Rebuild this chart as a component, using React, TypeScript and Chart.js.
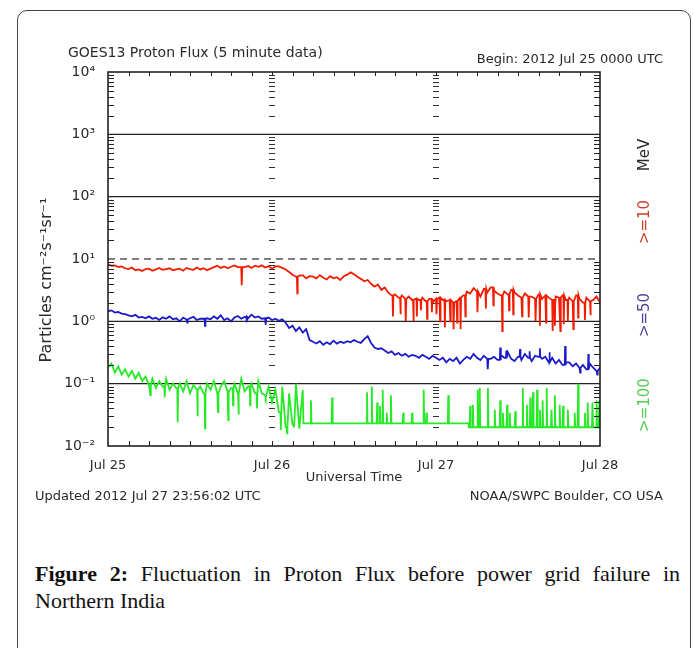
import React, { useEffect, useRef } from 'react';
import { Chart, registerables } from 'chart.js';

Chart.register(...registerables);

// ---------- DATA ----------
const SAMPLE_STEP_HOURS = 0.5; // hours since 2012 Jul 25 00:00 UTC
const SPIKE_HALF_WIDTH = 0.06; // hours

const xTickHours = [0, 24, 48, 72];
const xTickLabels = ['Jul 25', 'Jul 26', 'Jul 27', 'Jul 28'];

const yTickValues = [0.01, 0.1, 1, 10, 100, 1000, 10000];
const yTickLabels = ['10⁻²', '10⁻¹', '10⁰', '10¹', '10²', '10³', '10⁴'];

// >=10 MeV protons (red): running level every 0.5 h
const protons10 = [
  8.2, 7.8, 7.9, 7.4, 7.6, 7.1, 6.9, 7.3, 6.6, 6.8,
  6.4, 6.9, 7.0, 6.5, 6.8, 7.2, 6.7, 6.9, 7.1, 6.6,
  6.8, 7.0, 6.5, 7.2, 6.9, 6.7, 7.3, 6.8, 7.1, 6.6,
  7.0, 7.4, 7.8, 7.2, 7.6, 7.1, 7.5, 7.9, 7.4, 7.4,
  7.4, 7.7, 7.2, 7.8, 7.5, 7.9, 7.3, 7.7, 7.0, 7.6,
  7.6, 7.2, 6.8, 6.2, 5.6, 5.2, 5.4, 5.5, 4.9, 5.3,
  5.2, 4.9, 5.5, 5.0, 4.7, 5.3, 4.9, 5.1, 4.6, 5.3,
  5.6, 6.1, 5.7, 5.2, 4.8, 4.4, 4.6, 4.0, 3.6, 3.9,
  3.2, 3.5, 2.9, 2.6, 2.7, 2.4, 2.6, 2.3, 2.5, 2.2,
  2.3, 2.2, 2.4, 2.1, 2.3, 2.0, 2.3, 2.4, 2.2, 2.1,
  2.2, 2.0, 2.1, 2.4, 2.6, 3.0, 2.8, 3.4, 3.0, 2.5,
  3.3, 2.9, 3.5, 3.1, 2.8, 2.6, 3.0, 2.7, 3.2, 2.9,
  2.6, 2.4, 2.8, 2.5, 2.5, 2.3, 2.7, 2.3, 2.6, 2.4,
  2.2, 2.5, 2.4, 2.6, 2.2, 2.4, 2.1, 2.6, 2.3, 2.0,
  2.4, 2.1, 2.2, 2.5, 2.0,
];
// >=10 MeV short drop-outs
const protons10DipHours = [
  19.6, 27.7, 41.7, 42.8, 43.6, 44.7, 45.2, 45.8, 46.7, 47.4,
  48.1, 48.6, 49.3, 50.1, 50.6, 51.1, 51.6, 52.3, 54.1, 55.3,
  56.4, 57.7, 58.7, 59.3, 60.6, 61.6, 62.6, 63.2, 64.1, 65.1,
  65.4, 66.2, 66.7, 67.3, 68.1, 68.8, 69.8, 70.6,
];
const protons10DipValues = [
  3.8, 2.8, 1.2, 1.3, 1.0, 1.0, 1.2, 1.5, 1.1, 1.4,
  1.3, 1.0, 0.8, 1.0, 0.75, 0.95, 0.75, 1.2, 1.4, 1.6,
  1.8, 0.7, 1.5, 1.3, 1.2, 1.15, 1.0, 0.85, 0.95, 0.7,
  0.85, 0.7, 0.9, 1.0, 0.75, 1.15, 1.05, 1.25,
];

// >=50 MeV protons (blue)
const protons50 = [
  1.45, 1.5, 1.38, 1.42, 1.33, 1.3, 1.25, 1.2, 1.27, 1.15,
  1.18, 1.12, 1.2, 1.1, 1.14, 1.05, 1.16, 1.1, 1.2, 1.08,
  1.12, 1.0, 1.15, 1.07, 1.12, 1.18, 1.05, 1.1, 1.1, 1.12,
  1.08, 1.2, 1.1, 1.25, 1.05, 1.12, 1.0, 1.15, 1.22, 1.1,
  1.18, 1.12, 1.28, 1.15, 1.2, 1.1, 1.12, 1.15, 1.05, 1.1,
  1.02, 1.08, 0.95, 0.78, 0.85, 0.7, 0.8, 0.66, 0.75, 0.5,
  0.47, 0.44, 0.48, 0.42, 0.46, 0.43, 0.49, 0.44, 0.47, 0.45,
  0.48, 0.46, 0.5, 0.47, 0.45, 0.52, 0.58, 0.45, 0.38, 0.36,
  0.37, 0.34, 0.31, 0.33, 0.29, 0.31, 0.28, 0.3, 0.27, 0.29,
  0.28, 0.26, 0.29, 0.27, 0.25, 0.28, 0.26, 0.24, 0.26, 0.22,
  0.25, 0.23, 0.26, 0.21, 0.24, 0.27, 0.25, 0.3, 0.26, 0.24,
  0.28, 0.25, 0.25, 0.27, 0.24, 0.29, 0.26, 0.32, 0.25, 0.23,
  0.27, 0.24, 0.3, 0.26, 0.23, 0.28, 0.27, 0.25, 0.27, 0.22,
  0.26, 0.21, 0.24, 0.2, 0.22, 0.22, 0.19, 0.21, 0.18, 0.2,
  0.17, 0.21, 0.18, 0.16, 0.18,
];
const protons50SpikeHours = [11.6, 14.2, 20.3, 23.1, 55.6, 57.4, 58.3, 60.3, 61.7, 63.2, 64.6, 66.9, 69.1, 70.3, 71.6];
const protons50SpikeValues = [0.95, 0.85, 0.97, 0.88, 0.17, 0.38, 0.34, 0.36, 0.33, 0.37, 0.32, 0.4, 0.15, 0.3, 0.14];

// >=100 MeV protons (green), first part sampled every 0.5 h
const protons100Early = [
  0.18, 0.21, 0.15, 0.19, 0.14, 0.17, 0.13, 0.16, 0.12, 0.15,
  0.11, 0.13, 0.095, 0.12, 0.085, 0.11, 0.09, 0.12, 0.08, 0.1,
  0.085, 0.1, 0.075, 0.11, 0.07, 0.095, 0.08, 0.09, 0.07, 0.1,
  0.08, 0.11, 0.07, 0.09, 0.11, 0.075, 0.085, 0.1, 0.07, 0.12,
  0.075, 0.09, 0.1, 0.07, 0.11, 0.07, 0.065, 0.09, 0.05, 0.08,
  0.035, 0.09, 0.02, 0.07, 0.022, 0.1, 0.019, 0.08,
];
const protons100EarlyDipHours = [6.2, 8.3, 10.2, 13.1, 14.2, 16.1, 17.6, 18.3, 19.1, 20.8, 21.8, 23.1, 25.3, 26.2, 27.2];
const protons100EarlyDipValues = [0.065, 0.06, 0.024, 0.03, 0.019, 0.035, 0.026, 0.045, 0.032, 0.045, 0.04, 0.06, 0.018, 0.016, 0.02];
// later part: flat floor with isolated spikes
const protons100DropHour = 28.6;
const protons100FloorHours = [28.6, 52.8, 72];
const protons100FloorValues = [0.023, 0.02, 0.02];
const protons100SpikeHours = [
  29.7, 32.8, 37.9, 38.6, 39.4, 39.8, 40.2, 40.8, 41.4, 43.2,
  44.5, 46.2, 46.6, 49.8, 53.0, 53.4, 54.1, 54.4, 55.6, 56.6,
  57.4, 57.8, 58.4, 58.8, 59.6, 60.7, 61.3, 61.8, 62.2, 62.8,
  63.2, 63.6, 64.2, 64.9, 65.4, 66.1, 66.6, 67.3, 68.3, 68.8,
  69.8, 70.2, 70.9, 71.5, 71.9,
];
const protons100SpikePeaks = [
  0.054, 0.06, 0.073, 0.09, 0.05, 0.044, 0.08, 0.034, 0.065, 0.034,
  0.034, 0.08, 0.034, 0.065, 0.044, 0.046, 0.08, 0.085, 0.085, 0.038,
  0.054, 0.034, 0.046, 0.034, 0.036, 0.085, 0.046, 0.06, 0.073, 0.08,
  0.038, 0.054, 0.085, 0.038, 0.065, 0.046, 0.044, 0.038, 0.034, 0.1,
  0.034, 0.05, 0.05, 0.054, 0.054,
];

// ---------- helpers ----------
type Pt = { x: number; y: number };
const evenSeries = (vals: number[]): Pt[] => vals.map((v, i) => ({ x: i * SAMPLE_STEP_HOURS, y: v }));

function withSpikes(vals: number[], hours: number[], peaks: number[]): Pt[] {
  const pts = evenSeries(vals);
  hours.forEach((h, i) => {
    const base = vals[Math.min(vals.length - 1, Math.floor(h / SAMPLE_STEP_HOURS))];
    pts.push({ x: h - SPIKE_HALF_WIDTH, y: base }, { x: h, y: peaks[i] }, { x: h + SPIKE_HALF_WIDTH, y: base });
  });
  return pts.sort((a, b) => a.x - b.x);
}

function floorAt(h: number) {
  let v = protons100FloorValues[0];
  for (let i = 0; i < protons100FloorHours.length; i++) {
    if (h >= protons100FloorHours[i]) v = protons100FloorValues[i];
  }
  return v;
}

function buildProtons100(): Pt[] {
  const pts = withSpikes(protons100Early, protons100EarlyDipHours, protons100EarlyDipValues);
  pts.push({ x: protons100DropHour, y: floorAt(protons100DropHour) });
  let prevFloor = floorAt(protons100DropHour);
  const w = 0.08;
  protons100SpikeHours.forEach((h, i) => {
    const f = floorAt(h - w);
    if (f !== prevFloor) {
      const sw = protons100FloorHours.find((fh) => fh <= h && floorAt(fh) === f) ?? h;
      pts.push({ x: sw, y: prevFloor }, { x: sw, y: f });
      prevFloor = f;
    }
    pts.push({ x: h - w, y: f }, { x: h, y: protons100SpikePeaks[i] }, { x: h + w, y: floorAt(h + w) });
  });
  pts.push({ x: 72, y: floorAt(72) });
  return pts;
}

const FONT = '"DejaVu Sans", sans-serif';
const TXT = '#2a2a2a';

const decorPlugin = {
  id: 'decor',
  beforeDatasetsDraw(chart: any) {
    const { ctx, chartArea: a, scales } = chart;
    const y = scales.y;
    const x = scales.x;
    ctx.save();
    ctx.strokeStyle = '#222';
    ctx.lineWidth = 1.3;
    [0.1, 1, 100, 1000].forEach((v) => {
      const py = y.getPixelForValue(v);
      ctx.beginPath();
      ctx.moveTo(a.left, py);
      ctx.lineTo(a.right, py);
      ctx.stroke();
    });
    ctx.strokeStyle = '#555';
    ctx.setLineDash([7, 5]);
    const p10 = y.getPixelForValue(10);
    ctx.beginPath();
    ctx.moveTo(a.left, p10);
    ctx.lineTo(a.right, p10);
    ctx.stroke();
    ctx.setLineDash([]);
    ctx.strokeStyle = '#333';
    ctx.lineWidth = 1;
    [24, 48].forEach((h) => {
      const px = x.getPixelForValue(h);
      for (let d = 0.01; d < 10000; d *= 10) {
        for (let m = 2; m <= 9; m++) {
          const py = Math.round(y.getPixelForValue(m * d)) + 0.5;
          ctx.beginPath();
          ctx.moveTo(px - 3, py);
          ctx.lineTo(px + 3, py);
          ctx.stroke();
        }
      }
    });
    ctx.restore();
  },
  afterDatasetsDraw(chart: any) {
    const { ctx, chartArea: a, scales } = chart;
    const y = scales.y;
    const x = scales.x;
    ctx.save();
    ctx.strokeStyle = '#222';
    ctx.lineWidth = 1;
    for (let d = 0.01; d < 10000; d *= 10) {
      for (let m = 2; m <= 9; m++) {
        const py = Math.round(y.getPixelForValue(m * d)) + 0.5;
        ctx.beginPath();
        ctx.moveTo(a.left, py);
        ctx.lineTo(a.left + 6, py);
        ctx.moveTo(a.right - 6, py);
        ctx.lineTo(a.right, py);
        ctx.stroke();
      }
    }
    for (let h = 3; h < 72; h += 3) {
      const px = Math.round(x.getPixelForValue(h)) + 0.5;
      ctx.beginPath();
      ctx.moveTo(px, a.bottom);
      ctx.lineTo(px, a.bottom - 5);
      ctx.moveTo(px, a.top);
      ctx.lineTo(px, a.top + 4);
      ctx.stroke();
    }
    ctx.lineWidth = 1.6;
    ctx.strokeRect(a.left, a.top, a.right - a.left, a.bottom - a.top);
    ctx.restore();
  },
  afterDraw(chart: any) {
    const { ctx, chartArea: a } = chart;
    ctx.save();
    ctx.fillStyle = TXT;
    ctx.textBaseline = 'middle';
    ctx.font = `14px ${FONT}`;
    ctx.textAlign = 'left';
    ctx.fillText('GOES13 Proton Flux (5 minute data)', 50, 42);
    ctx.font = `13px ${FONT}`;
    ctx.textAlign = 'right';
    ctx.fillText('Begin: 2012 Jul 25 0000 UTC', 645, 49);
    ctx.textAlign = 'center';
    ctx.fillText('Universal Time', (a.left + a.right) / 2, 467);
    ctx.textAlign = 'left';
    ctx.fillText('Updated 2012 Jul 27 23:56:02 UTC', 17, 486);
    ctx.textAlign = 'right';
    ctx.fillText('NOAA/SWPC Boulder, CO USA', 645, 486);

    const rot = (text: string, cx: number, cy: number, color: string, size: number) => {
      ctx.save();
      ctx.translate(cx, cy);
      ctx.rotate(-Math.PI / 2);
      ctx.textAlign = 'center';
      ctx.textBaseline = 'middle';
      ctx.fillStyle = color;
      ctx.font = `${size}px ${FONT}`;
      ctx.fillText(text, 0, 0);
      ctx.restore();
    };
    rot('Particles cm⁻²s⁻¹sr⁻¹', 29, 269, TXT, 16);
    rot('MeV', 627, 144, TXT, 15);
    rot('>=10', 627, 211, '#c8402c', 15);
    rot('>=50', 627, 304, '#55479a', 15);
    rot('>=100', 627, 394, '#55cc55', 15);
    ctx.restore();
  },
};

export default function App() {
  const canvasRef = useRef<HTMLCanvasElement | null>(null);

  useEffect(() => {
    const canvas = canvasRef.current;
    if (!canvas) return;
    const chart = new Chart(canvas, {
      type: 'line',
      data: {
        datasets: [
          { label: '>=10 MeV', data: withSpikes(protons10, protons10DipHours, protons10DipValues), borderColor: '#f21c00', borderWidth: 1.8, pointRadius: 0, tension: 0 },
          { label: '>=50 MeV', data: withSpikes(protons50, protons50SpikeHours, protons50SpikeValues), borderColor: '#1a1ac8', borderWidth: 1.8, pointRadius: 0, tension: 0 },
          { label: '>=100 MeV', data: buildProtons100(), borderColor: '#26ea26', borderWidth: 1.8, pointRadius: 0, tension: 0 },
        ],
      },
      options: {
        animation: false,
        responsive: false,
        maintainAspectRatio: false,
        parsing: false as any,
        normalized: true,
        layout: { padding: { top: 61, right: 88, left: 0, bottom: 0 } },
        plugins: { legend: { display: false }, tooltip: { enabled: false }, title: { display: false } },
        scales: {
          x: {
            type: 'linear',
            min: 0,
            max: 72,
            grid: { display: false },
            border: { display: false },
            ticks: {
              autoSkip: false,
              maxRotation: 0,
              padding: 4,
              color: TXT,
              font: { family: FONT, size: 13 },
              callback: (v: any) => {
                const i = xTickHours.indexOf(Number(v));
                return i >= 0 ? xTickLabels[i] : '';
              },
            },
            afterBuildTicks: (s: any) => {
              s.ticks = xTickHours.map((v) => ({ value: v }));
            },
            afterFit: (s: any) => {
              s.height = 69;
            },
          },
          y: {
            type: 'logarithmic',
            min: 0.01,
            max: 10000,
            grid: { display: false },
            border: { display: false },
            ticks: {
              autoSkip: false,
              padding: 5,
              color: TXT,
              font: { family: FONT, size: 14 },
              callback: (v: any) => {
                const i = yTickValues.indexOf(Number(v));
                return i >= 0 ? yTickLabels[i] : '';
              },
            },
            afterBuildTicks: (s: any) => {
              s.ticks = yTickValues.map((v) => ({ value: v }));
            },
            afterFit: (s: any) => {
              s.width = 90;
            },
          },
        },
      } as any,
      plugins: [decorPlugin],
    });
    return () => chart.destroy();
  }, []);

  return (
    <div
      style={{
        position: 'fixed',
        left: 17,
        top: 10,
        width: 674,
        height: 660,
        boxSizing: 'border-box',
        border: '1px solid #444',
        borderRadius: 10,
        background: '#fff',
      }}
    >
      <div style={{ position: 'absolute', left: 0, top: 0, width: 670, height: 504 }}>
        <canvas ref={canvasRef} width={670} height={504} style={{ display: 'block', width: 670, height: 504 }} />
      </div>
      <div
        style={{
          position: 'absolute',
          left: 17,
          top: 549,
          width: 645,
          fontFamily: '"Liberation Serif", serif',
          fontSize: 22,
          lineHeight: '27px',
          color: '#111',
        }}
      >
        <div style={{ textAlign: 'justify', textAlignLast: 'justify' as any }}>
          <b>Figure 2:</b> Fluctuation in Proton Flux before power grid failure in
        </div>
        <div>Northern India</div>
      </div>
    </div>
  );
}
